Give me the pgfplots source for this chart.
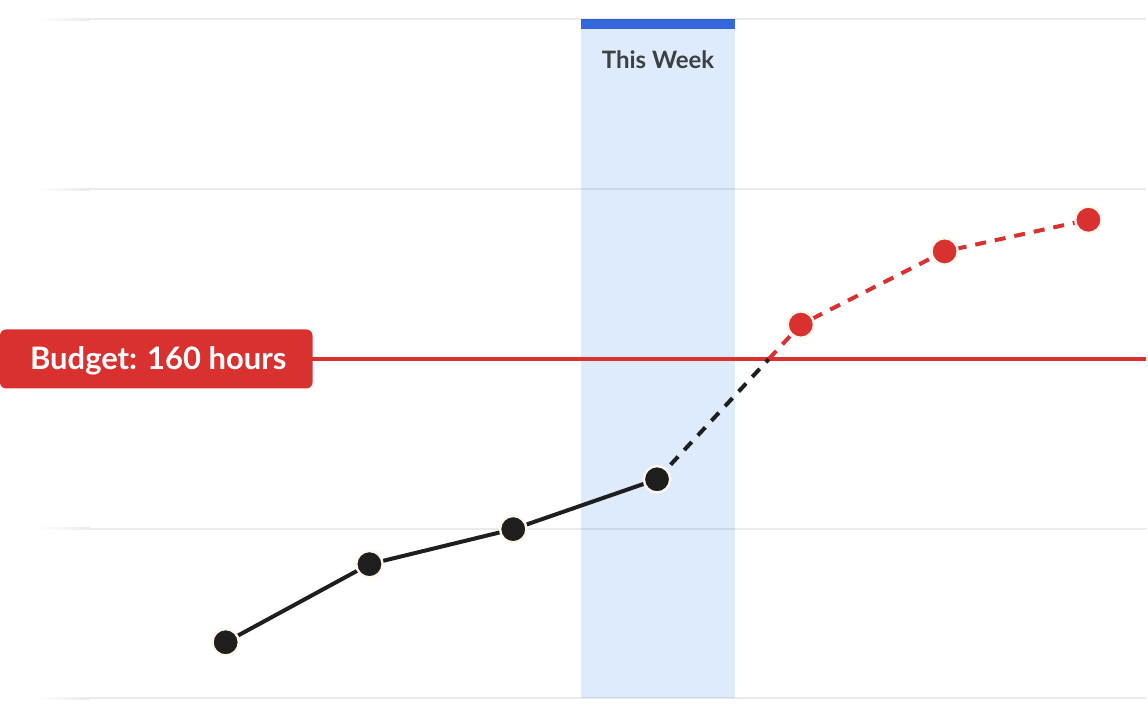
\documentclass[border=0pt]{standalone}
\usepackage{pgfplots}
\pgfplotsset{compat=1.18}
\usepackage{fontspec}
\setmainfont{Lato}
\definecolor{dark}{HTML}{1E1E1E}
\definecolor{budgetred}{HTML}{D93030}
\definecolor{cream}{HTML}{FFF6EC}
\definecolor{bandblue}{HTML}{DDEBFC}
\definecolor{barblue}{HTML}{3567DC}
\definecolor{gridgray}{HTML}{EBEBEB}
\definecolor{labelgray}{HTML}{3C4043}
\begin{document}
\begin{tikzpicture}
\begin{axis}[
  scale only axis, width=574pt, height=359pt,
  xmin=-1.5694, xmax=6.4028, ymin=-8.706, ymax=329.18,
  axis lines=none, clip=false,
]
% full canvas (keeps the bounding box)
\path (rel axis cs:0,0) rectangle (rel axis cs:1,1);
% highlighted week band
\fill[bandblue] (axis cs:2.472,0) rectangle (axis cs:3.542,315.3);
\fill[barblue] (axis cs:2.472,315.3) rectangle (axis cs:3.542,320);
% grid lines with left fade
\pgfplotsinvokeforeach{0,80,160,240,320}{
  \shade[left color=white, right color=gridgray] (axis cs:-1.326,#1-0.47) rectangle (axis cs:-0.944,#1+0.47);
  \draw[black, opacity=0.08, line width=1pt] (axis cs:-0.944,#1) -- (axis cs:6.4028,#1);
}
% budget line
\draw[budgetred, line width=1.7pt] (axis cs:0.6,160) -- (axis cs:6.4028,160);
% actuals
\addplot[dark, line width=2pt] coordinates {(0,26.5) (1,63.3) (2,79.8) (3,103.3)};
% projection below budget
\addplot[dark, line width=2pt, dash pattern=on 5.5pt off 4.5pt] coordinates {(3,103.3) (3.778,160)};
% projection above budget
\addplot[budgetred, line width=2pt, dash pattern=on 5.5pt off 4.5pt] coordinates {(3.778,160) (4,176.2) (5,210.7) (6,225.6)};
% markers
\addplot[only marks, mark=*, mark size=6.6pt, mark options={fill=dark, draw=cream, line width=1.2pt}] coordinates {(0,26.5) (1,63.3) (2,79.8) (3,103.3)};
\addplot[only marks, mark=*, mark size=6.6pt, mark options={fill=budgetred, draw=cream, line width=1.2pt}] coordinates {(4,176.2) (5,210.7) (6,225.6)};
% labels
\node[anchor=base, text=labelgray, font=\fontsize{12pt}{14pt}\selectfont\bfseries] at (axis cs:3.007,297.0) {This Week};
\fill[budgetred, rounded corners=3pt] (axis cs:-1.5694,146.1) rectangle (axis cs:0.604,173.9);
\node[anchor=base, text=white, font=\fontsize{15.5pt}{18pt}\selectfont\bfseries] at (axis cs:-0.469,155.1) {Budget: 160 hours};
\end{axis}
\end{tikzpicture}
\end{document}
